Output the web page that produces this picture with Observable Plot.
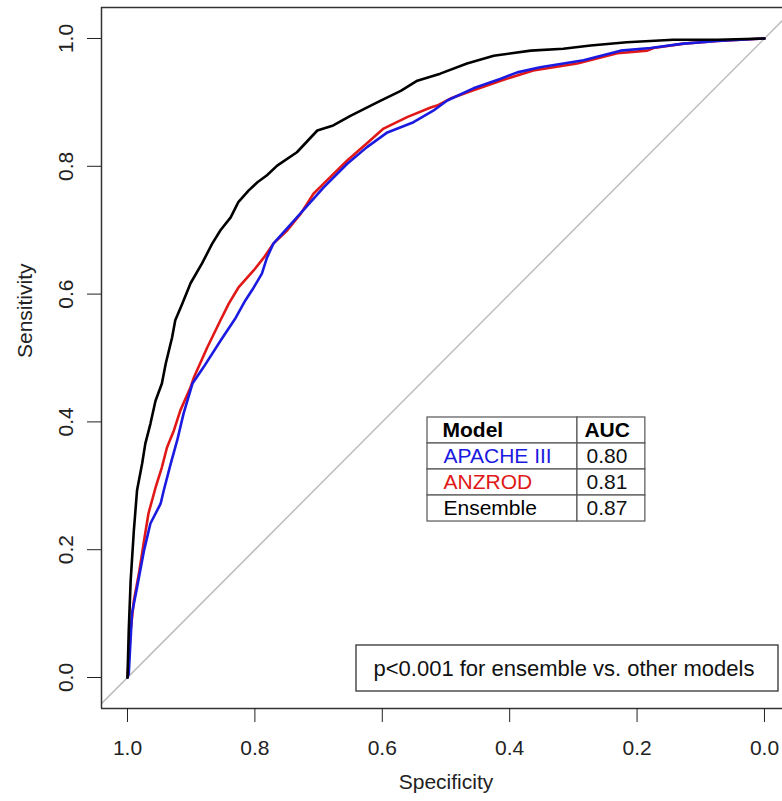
<!DOCTYPE html>
<html><head><meta charset="utf-8">
<script src="https://cdn.jsdelivr.net/npm/d3@7"></script>
<script src="https://cdn.jsdelivr.net/npm/@observablehq/plot@0.6"></script>
<style>body{margin:0;background:#fff}</style>
</head><body><div id="chart"></div>
<script>
// ---- data ----
const xTicks = [1.0, 0.8, 0.6, 0.4, 0.2, 0.0];
const yTicks = [0.0, 0.2, 0.4, 0.6, 0.8, 1.0];

const ensembleSpec = [1.000,0.998,0.995,0.990,0.985,0.977,0.972,0.964,0.956,0.946,0.940,0.930,0.925,0.914,0.901,0.883,0.867,0.854,0.838,0.826,0.810,0.796,0.781,0.765,0.734,0.702,0.677,0.650,0.608,0.571,0.545,0.509,0.467,0.425,0.367,0.316,0.273,0.216,0.143,0.074,0.000];
const ensembleSens = [0.000,0.074,0.152,0.230,0.293,0.335,0.366,0.397,0.433,0.460,0.491,0.532,0.559,0.585,0.617,0.648,0.679,0.700,0.720,0.744,0.762,0.775,0.786,0.801,0.822,0.856,0.864,0.879,0.900,0.918,0.934,0.945,0.961,0.973,0.981,0.984,0.989,0.994,0.998,0.998,1.000];

const anzrodSpec = [1.000,0.995,0.990,0.982,0.974,0.967,0.956,0.946,0.938,0.927,0.917,0.901,0.896,0.875,0.854,0.841,0.826,0.802,0.786,0.771,0.749,0.728,0.708,0.692,0.655,0.624,0.598,0.561,0.524,0.514,0.493,0.457,0.414,0.363,0.294,0.231,0.184,0.174,0.127,0.074,0.000];
const anzrodSens = [0.000,0.074,0.120,0.163,0.214,0.257,0.297,0.329,0.360,0.387,0.418,0.454,0.469,0.516,0.559,0.585,0.610,0.637,0.657,0.679,0.700,0.726,0.757,0.773,0.809,0.836,0.859,0.877,0.892,0.895,0.906,0.919,0.934,0.950,0.961,0.977,0.981,0.985,0.992,0.996,1.000];

const apacheSpec = [1.000,0.998,0.993,0.985,0.974,0.964,0.948,0.943,0.932,0.922,0.912,0.898,0.881,0.854,0.830,0.815,0.802,0.789,0.781,0.771,0.734,0.692,0.655,0.624,0.592,0.551,0.520,0.498,0.457,0.414,0.388,0.352,0.284,0.226,0.179,0.127,0.074,0.000];
const apacheSens = [0.000,0.006,0.100,0.141,0.199,0.241,0.272,0.293,0.335,0.371,0.413,0.460,0.485,0.527,0.563,0.590,0.610,0.632,0.657,0.679,0.720,0.767,0.804,0.830,0.853,0.869,0.887,0.903,0.922,0.937,0.947,0.955,0.966,0.981,0.985,0.992,0.996,1.000];

const models = ["APACHE III", "ANZROD", "Ensemble"];
const aucValues = ["0.80", "0.81", "0.87"];
const modelColors = ["#1a1ae0", "#e01818", "#000000"];
const tableHeader = ["Model", "AUC"];
const noteText = "p<0.001 for ensemble vs. other models";
const xLabel = "Specificity";
const yLabel = "Sensitivity";

// ---- layout ----
const W = 782, H = 801;
const xDom = [1.0408, -0.0283];
const yDom = [-0.0485, 1.0485];
const tbl = {x1: 0.529, xm: 0.2936, x2: 0.187, top: 0.4069, rowH: 0.0407};
const noteBox = {x1: 0.6405, x2: -0.022, y1: -0.0219, y2: 0.0501};
const font = "'Liberation Sans', Arial, Helvetica, sans-serif";

const pts = (s, e) => s.map((v, i) => ({spec: v, sens: e[i]}));
const ensemble = pts(ensembleSpec, ensembleSens);
const anzrod = pts(anzrodSpec, anzrodSens);
const apache = pts(apacheSpec, apacheSens);
const diag = [{spec: 1.1, sens: -0.1}, {spec: -0.1, sens: 1.1}];

const rowIdx = [0, 1, 2, 3];
const rowY1 = i => tbl.top - (i + 1) * tbl.rowH;
const rowY2 = i => tbl.top - i * tbl.rowH;
const rowC = i => tbl.top - (i + 0.5) * tbl.rowH;

const tableMarks = [
  Plot.rect(rowIdx, {x1: tbl.x1, x2: tbl.xm, y1: rowY1, y2: rowY2, fill: "white", stroke: "#555", strokeWidth: 1.2}),
  Plot.rect(rowIdx, {x1: tbl.xm, x2: tbl.x2, y1: rowY1, y2: rowY2, fill: "white", stroke: "#555", strokeWidth: 1.2}),
  Plot.text([tableHeader[0]], {x: tbl.x1, y: rowC(0), text: d => d, dx: 15, textAnchor: "start", fontSize: 21, fontWeight: "bold", fill: "#000"}),
  Plot.text([tableHeader[1]], {x: tbl.xm, y: rowC(0), text: d => d, dx: 7, textAnchor: "start", fontSize: 21, fontWeight: "bold", fill: "#000"}),
  ...models.map((m, i) => Plot.text([m], {x: tbl.x1, y: rowC(i + 1), text: d => d, dx: 16, textAnchor: "start", fontSize: 21, fill: modelColors[i]})),
  ...aucValues.map((a, i) => Plot.text([a], {x: tbl.xm, y: rowC(i + 1), text: d => d, dx: 9, textAnchor: "start", fontSize: 21, fill: "#111"}))
];

const chart = Plot.plot({
  width: W, height: H,
  marginLeft: 101, marginTop: 7, marginBottom: 93, marginRight: 0,
  style: {fontFamily: font, fontSize: "21px", color: "#222", background: "#fff"},
  x: {domain: xDom},
  y: {domain: yDom},
  marks: [
    Plot.line(diag, {x: "spec", y: "sens", stroke: "#bdbdbd", strokeWidth: 1.5, clip: true}),
    Plot.line(anzrod, {x: "spec", y: "sens", stroke: modelColors[1], strokeWidth: 2.6, strokeLinejoin: "round"}),
    Plot.line(apache, {x: "spec", y: "sens", stroke: modelColors[0], strokeWidth: 2.6, strokeLinejoin: "round"}),
    Plot.line(ensemble, {x: "spec", y: "sens", stroke: modelColors[2], strokeWidth: 2.6, strokeLinejoin: "round"}),
    Plot.ruleX([xDom[0]], {stroke: "#333", strokeWidth: 1.5}),
    Plot.ruleY([yDom[0], yDom[1]], {stroke: "#333", strokeWidth: 1.5}),
    ...tableMarks,
    Plot.rect([0], {x1: noteBox.x1, x2: noteBox.x2, y1: noteBox.y1, y2: noteBox.y2, fill: "white", stroke: "#333", strokeWidth: 1.3}),
    Plot.text([noteText], {x: noteBox.x1, y: (noteBox.y1 + noteBox.y2) / 2, text: d => d, dx: 17, textAnchor: "start", fontSize: 22, fill: "#111"}),
    Plot.axisX({ticks: xTicks, tickFormat: d => d.toFixed(1), tickSize: 14, tickPadding: 18, fontSize: 21, label: null}),
    Plot.axisY({ticks: yTicks, tickFormat: d => d.toFixed(1), tickSize: 14, tickPadding: 15, tickRotate: -90, fontSize: 21, label: null}),
    Plot.text([xLabel], {frameAnchor: "bottom", text: d => d, dx: 4, dy: 80, fontSize: 21, fill: "#222"}),
    Plot.text([yLabel], {frameAnchor: "left", text: d => d, dx: -76, rotate: -90, fontSize: 21, fill: "#222"})
  ]
});
document.getElementById("chart").appendChild(chart);
</script>
</body></html>
